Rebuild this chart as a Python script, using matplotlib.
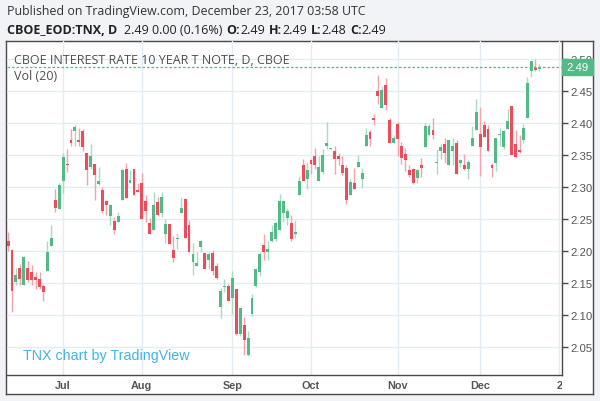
import matplotlib
matplotlib.use("Agg")
import matplotlib.pyplot as plt
import matplotlib.transforms as mtransforms
from matplotlib.patches import Rectangle
import numpy as np
import pandas as pd

# daily OHLC of TNX, 13 Jun 2017 .. 22 Dec 2017
opens = [2.215, 2.202, 2.152, 2.174, 2.146, 2.174, 2.167, 2.159, 2.156, 2.145,
         2.169, 2.208, 2.280, 2.265, 2.309, 2.336, 2.374, 2.387, 2.374, 2.388,
         2.353, 2.332, 2.336, 2.305, 2.295, 2.278, 2.255, 2.247, 2.245, 2.280,
         2.328, 2.307, 2.328, 2.296, 2.307, 2.278, 2.244, 2.232, 2.276, 2.260,
         2.226, 2.242, 2.201, 2.219, 2.260, 2.281, 2.241, 2.183, 2.177, 2.206,
         2.197, 2.185, 2.197, 2.177, 2.112, 2.143, 2.145, 2.126, 2.140, 2.070,
         2.084, 2.037, 2.101, 2.145, 2.167, 2.209, 2.198, 2.215, 2.219, 2.232,
         2.260, 2.252, 2.244, 2.226, 2.287, 2.334, 2.312, 2.343, 2.349, 2.309,
         2.324, 2.364, 2.360, 2.357, 2.348, 2.335, 2.330, 2.288, 2.307, 2.331,
         2.313, 2.364, 2.386, 2.408, 2.451, 2.424, 2.460, 2.405, 2.369, 2.399,
         2.364, 2.352, 2.326, 2.328, 2.314, 2.334, 2.362, 2.382, 2.390, 2.337,
         2.357, 2.368, 2.335, 2.357, 2.369, 2.338, 2.334, 2.328, 2.364, 2.390,
         2.383, 2.397, 2.391, 2.334, 2.338, 2.381, 2.362, 2.391, 2.427, 2.368,
         2.358, 2.373, 2.408, 2.482, 2.486, 2.485]
highs = [2.229, 2.203, 2.173, 2.180, 2.192, 2.184, 2.178, 2.167, 2.167, 2.148,
         2.216, 2.241, 2.297, 2.307, 2.353, 2.359, 2.391, 2.397, 2.392, 2.391,
         2.353, 2.368, 2.336, 2.331, 2.300, 2.280, 2.273, 2.253, 2.261, 2.328,
         2.337, 2.327, 2.328, 2.307, 2.322, 2.287, 2.251, 2.293, 2.285, 2.293,
         2.250, 2.242, 2.223, 2.228, 2.285, 2.283, 2.249, 2.212, 2.199, 2.217,
         2.197, 2.198, 2.201, 2.181, 2.142, 2.156, 2.148, 2.168, 2.140, 2.111,
         2.096, 2.075, 2.132, 2.172, 2.199, 2.227, 2.215, 2.240, 2.246, 2.289,
         2.278, 2.267, 2.257, 2.248, 2.318, 2.344, 2.340, 2.344, 2.361, 2.349,
         2.360, 2.402, 2.361, 2.364, 2.353, 2.348, 2.334, 2.313, 2.330, 2.350,
         2.330, 2.393, 2.390, 2.415, 2.476, 2.459, 2.471, 2.408, 2.381, 2.402,
         2.370, 2.361, 2.334, 2.330, 2.328, 2.346, 2.401, 2.399, 2.408, 2.360,
         2.368, 2.377, 2.373, 2.377, 2.373, 2.344, 2.352, 2.343, 2.395, 2.438,
         2.425, 2.404, 2.397, 2.337, 2.377, 2.392, 2.389, 2.422, 2.427, 2.390,
         2.381, 2.399, 2.473, 2.497, 2.500, 2.493]
lows = [2.200, 2.105, 2.146, 2.146, 2.146, 2.152, 2.146, 2.141, 2.141, 2.122,
        2.169, 2.207, 2.261, 2.265, 2.291, 2.324, 2.364, 2.364, 2.364, 2.357,
        2.303, 2.328, 2.280, 2.303, 2.260, 2.256, 2.240, 2.227, 2.245, 2.279,
        2.283, 2.307, 2.288, 2.292, 2.250, 2.245, 2.227, 2.232, 2.254, 2.253,
        2.213, 2.211, 2.183, 2.203, 2.260, 2.220, 2.199, 2.163, 2.177, 2.199,
        2.171, 2.172, 2.162, 2.156, 2.095, 2.135, 2.121, 2.101, 2.069, 2.066,
        2.037, 2.036, 2.098, 2.143, 2.160, 2.186, 2.185, 2.214, 2.216, 2.232,
        2.245, 2.240, 2.216, 2.220, 2.287, 2.309, 2.297, 2.320, 2.328, 2.309,
        2.321, 2.360, 2.360, 2.321, 2.334, 2.319, 2.274, 2.288, 2.297, 2.331,
        2.299, 2.364, 2.364, 2.397, 2.430, 2.424, 2.420, 2.369, 2.369, 2.349,
        2.336, 2.325, 2.316, 2.305, 2.307, 2.316, 2.362, 2.380, 2.376, 2.321,
        2.344, 2.337, 2.335, 2.335, 2.321, 2.331, 2.326, 2.312, 2.364, 2.390,
        2.317, 2.379, 2.356, 2.316, 2.325, 2.364, 2.360, 2.391, 2.350, 2.345,
        2.353, 2.369, 2.408, 2.473, 2.481, 2.482]
closes = [2.207, 2.138, 2.162, 2.156, 2.191, 2.154, 2.155, 2.154, 2.144, 2.136,
          2.198, 2.221, 2.267, 2.303, 2.347, 2.334, 2.369, 2.394, 2.371, 2.362,
          2.327, 2.349, 2.319, 2.310, 2.263, 2.272, 2.272, 2.232, 2.255, 2.327,
          2.283, 2.311, 2.288, 2.292, 2.250, 2.262, 2.227, 2.272, 2.256, 2.285,
          2.242, 2.211, 2.189, 2.220, 2.267, 2.220, 2.199, 2.195, 2.181, 2.216,
          2.171, 2.195, 2.169, 2.158, 2.138, 2.144, 2.121, 2.158, 2.070, 2.110,
          2.061, 2.064, 2.126, 2.172, 2.195, 2.198, 2.203, 2.229, 2.244, 2.278,
          2.278, 2.263, 2.219, 2.230, 2.310, 2.309, 2.327, 2.336, 2.334, 2.332,
          2.350, 2.369, 2.361, 2.344, 2.344, 2.322, 2.280, 2.308, 2.297, 2.340,
          2.322, 2.382, 2.375, 2.405, 2.443, 2.452, 2.428, 2.369, 2.377, 2.375,
          2.346, 2.343, 2.319, 2.307, 2.326, 2.330, 2.395, 2.395, 2.381, 2.338,
          2.362, 2.354, 2.373, 2.365, 2.321, 2.342, 2.328, 2.340, 2.377, 2.418,
          2.362, 2.379, 2.356, 2.330, 2.377, 2.383, 2.387, 2.404, 2.350, 2.347,
          2.355, 2.393, 2.463, 2.497, 2.484, 2.488]

holidays = ["2017-07-04", "2017-09-04", "2017-11-23", "2017-12-25"]
dates = pd.bdate_range("2017-06-13", "2018-01-02", freq="C", holidays=holidays)
price_ticks = [2.05, 2.10, 2.15, 2.20, 2.25, 2.30, 2.35, 2.40, 2.45, 2.50]

UP, DOWN = "#53b987", "#eb4d5c"
UP_WICK, DOWN_WICK = "#a6dcc2", "#f5a3ab"
GRID = "#e3ecf2"
EDGE = "#4a4a4a"
TXT = "#555555"

W, H = 600, 402
fig = plt.figure(figsize=(6, 4.02), dpi=100)
fig.patch.set_facecolor("#f1f3f6")


def box(x0, y0, x1, y1):
    # pixel box (top-left origin) -> figure fraction rect
    return [x0 / W, 1 - y1 / H, (x1 - x0) / W, (y1 - y0) / H]


frame = fig.add_axes(box(6, 42, 593, 395))
frame.set_facecolor("white")
frame.set_xticks([])
frame.set_yticks([])
for s in frame.spines.values():
    s.set_color(EDGE)
    s.set_linewidth(1)

ax = fig.add_axes(box(6.5, 42, 562, 376))
ax.set_facecolor("none")
tax = fig.add_axes(box(6.5, 376, 562, 395), sharex=ax)
tax.set_facecolor("none")
tax.axis("off")

o = np.array(opens)
h = np.array(highs)
l = np.array(lows)
c = np.array(closes)
x = np.arange(len(o))
up = c >= o

ax.vlines(x, l, h, colors=np.where(up, UP_WICK, DOWN_WICK), lw=1, zorder=2)
body = np.maximum(np.abs(c - o), 0.0016)
ax.bar(x, body, bottom=np.minimum(o, c), width=0.74,
       color=np.where(up, UP, DOWN), lw=0, zorder=3)

ax.set_xlim(-0.4, 140.8)
ax.set_ylim(2.0057, 2.5287)

# month ticks
starts = [i for i in range(1, len(dates)) if dates[i].month != dates[i - 1].month]
ax.set_xticks(starts)
ax.set_yticks(price_ticks)
ax.grid(color=GRID, lw=1, zorder=0)
ax.tick_params(axis="x", length=0, labelbottom=False)
ax.yaxis.tick_right()
ax.tick_params(axis="y", length=4, width=1, color=EDGE, labelsize=8.2,
               labelcolor=TXT, pad=2)
for lab in ax.get_yticklabels():
    lab.set_family("Liberation Sans")
for side in ["top", "left"]:
    ax.spines[side].set_visible(False)
for side in ["right", "bottom"]:
    ax.spines[side].set_color(EDGE)
    ax.spines[side].set_linewidth(1)

for i in starts:
    d = dates[i]
    if d.month == 1:
        # year label sits at the right edge and is cut by the price scale
        tax.text(i - 0.6, 0.45, str(d.year), ha="left", va="center",
                 fontsize=7.8, fontweight="bold", color=TXT,
                 family="Liberation Sans",
                 transform=tax.get_xaxis_transform(), clip_on=True)
    else:
        tax.text(i, 0.45, d.strftime("%b"), ha="center", va="center",
                 fontsize=7.8, fontweight="bold", color=TXT,
                 family="Liberation Sans",
                 transform=tax.get_xaxis_transform(), clip_on=True)

# last price line and label
last = c[-1]
ax.axhline(last, color=UP, lw=0.9, ls=(0, (2, 1.6)), zorder=4)
bt = mtransforms.blended_transform_factory(ax.transAxes, ax.transData)
ax.add_patch(Rectangle((1.0, last - 0.0118), 31 / 555.5, 0.0236,
                       transform=bt, color=UP, clip_on=False, zorder=5))
ax.text(1.0 + 15.5 / 555.5, last, "%.2f" % last, transform=bt, ha="center",
        va="center", color="white", fontsize=8.2, family="Liberation Sans",
        zorder=6, clip_on=False)

# texts inside the chart
fig.text(14 / W, 1 - 60 / H, "CBOE INTEREST RATE 10 YEAR T NOTE, D, CBOE",
         ha="left", va="center", color="#4f4f4f", fontsize=9.0, family="Open Sans")
fig.text(14 / W, 1 - 76 / H, "Vol (20)", ha="left", va="center",
         color="#4f4f4f", fontsize=9.0, family="Open Sans")
fig.text(23 / W, 1 - 356 / H, "TNX chart by TradingView", ha="left",
         va="center", color="#42b4e6", fontsize=10.3, family="Liberation Sans")

# header
fig.text(7 / W, 1 - 12 / H, "Published on TradingView.com, December 23, 2017 03:58 UTC",
         ha="left", va="center", color="#333333", fontsize=8.9, family="Open Sans")

pieces = [("CBOE_EOD:TNX, D", "bold", 7), ("2.49 0.00 (0.16%)", "normal", 4),
          ("O:", "bold", 0), ("2.49", "normal", 4), ("H:", "bold", 0),
          ("2.49", "normal", 4), ("L:", "bold", 0), ("2.48", "normal", 4),
          ("C:", "bold", 0), ("2.49", "normal", 0)]
renderer = fig.canvas.get_renderer()
xp = 7
for txt, weight, gap in pieces:
    t = fig.text(xp / W, 1 - 31 / H, txt, ha="left", va="center", color="#222222",
                 fontsize=9.0, fontweight=weight, family="Open Sans")
    xp += t.get_window_extent(renderer).width + gap

fig.savefig("out.png", dpi=100, facecolor=fig.get_facecolor())
